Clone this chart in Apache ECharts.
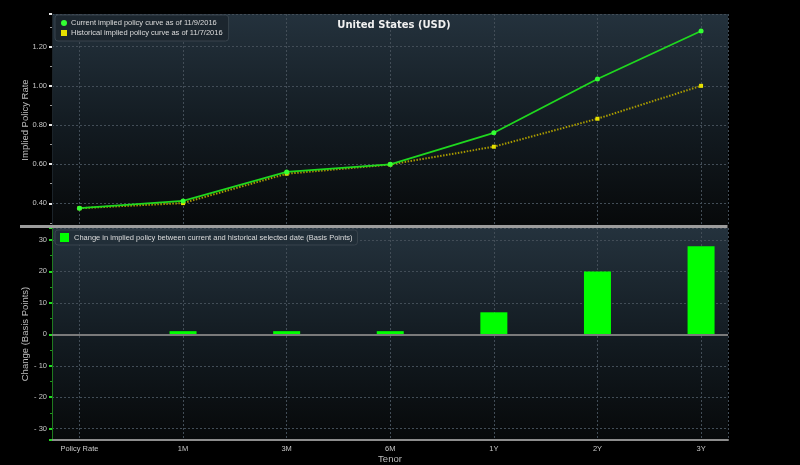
<!DOCTYPE html>
<html>
<head>
<meta charset="utf-8">
<script src="https://cdn.jsdelivr.net/npm/echarts@6/dist/echarts.min.js"></script>
<style>html,body{margin:0;padding:0;background:#000;}#c{width:800px;height:465px;}</style>
</head>
<body>
<div id="c"></div>
<script>
var tenors = ['Policy Rate', '1M', '3M', '6M', '1Y', '2Y', '3Y'];
var currentCurve = [0.375, 0.412, 0.56, 0.599, 0.76, 1.035, 1.28];
var historicalCurve = [0.375, 0.401, 0.551, 0.598, 0.689, 0.832, 1.0];
var changeBp = [0, 1, 1, 1, 7, 20, 28];
var currentName = 'Current implied policy curve as of 11/9/2016';
var historicalName = 'Historical implied policy curve as of 11/7/2016';
var changeName = 'Change in implied policy between current and historical selected date (Basis Points)';

var FONT = 'Liberation Sans';
function pairs(arr) { return arr.map(function (v, i) { return [i, v]; }); }
var bg = {type: 'linear', x: 0, y: 0, x2: 0, y2: 1,
  colorStops: [{offset: 0, color: '#24323d'}, {offset: 0.55, color: '#121a20'}, {offset: 1, color: '#07090a'}]};
var gridLine = {show: true, lineStyle: {color: '#424d57', type: [2, 2], width: 1}};
function xLabel(v) { return Number.isInteger(v) && tenors[v] !== undefined ? tenors[v] : ''; }

var chart = echarts.init(document.getElementById('c'), null, {renderer: 'canvas'});
chart.setOption({
  backgroundColor: '#000',
  animation: false,
  title: {text: 'United States (USD)', left: 389, textAlign: 'center', top: 15,
    textStyle: {color: '#f0f0f0', fontSize: 10, fontWeight: 'bold', fontFamily: 'DejaVu Sans'}},
  legend: [{
    data: [{name: currentName, icon: 'circle'}, {name: historicalName, icon: 'rect'}],
    left: 55, top: 15, orient: 'vertical', itemGap: 2, itemWidth: 6, itemHeight: 6,
    padding: [4, 6, 4, 6], backgroundColor: 'rgba(28,38,46,0.9)', borderColor: '#38434c', borderWidth: 1, borderRadius: 3,
    textStyle: {color: '#dcdcdc', fontSize: 7.5, fontFamily: FONT, padding: [0, 0, 0, -1]}
  }, {
    data: [{name: changeName, icon: 'rect'}],
    left: 55, top: 230, itemWidth: 9, itemHeight: 9,
    padding: [3, 5, 3, 5], backgroundColor: 'rgba(34,46,56,0.95)', borderColor: '#38434c', borderWidth: 1, borderRadius: 3,
    textStyle: {color: '#dcdcdc', fontSize: 7.5, fontFamily: FONT}
  }],
  grid: [
    {left: 52, right: 72, top: 14, height: 212, show: true, backgroundColor: bg, borderWidth: 0},
    {left: 52, right: 72, top: 228, height: 212, show: true, backgroundColor: bg, borderWidth: 0}
  ],
  xAxis: [{
    type: 'value', gridIndex: 0, min: -0.265, max: 6.26, splitNumber: 6,
    axisLine: {show: false, onZero: false}, axisTick: {show: false}, axisLabel: {show: false},
    splitLine: gridLine
  }, {
    type: 'value', gridIndex: 1, min: -0.265, max: 6.26, splitNumber: 6,
    name: 'Tenor', nameLocation: 'middle', nameGap: 14, nameMoveOverlap: false,
    nameTextStyle: {color: '#bdbdbd', fontSize: 9.5, fontFamily: FONT},
    axisLine: {show: true, onZero: false, lineStyle: {color: '#8c8c8c', width: 2}},
    axisTick: {show: false},
    axisLabel: {color: '#c8c8c8', fontSize: 7.5, fontFamily: FONT, margin: 5, formatter: xLabel,
      showMinLabel: false, showMaxLabel: false},
    splitLine: gridLine
  }],
  yAxis: [{
    type: 'value', gridIndex: 0, min: 0.284, max: 1.367, splitNumber: 5,
    name: 'Implied Policy Rate', nameLocation: 'middle', nameGap: 22, nameMoveOverlap: false,
    nameTextStyle: {color: '#bdbdbd', fontSize: 9.5, fontFamily: FONT},
    axisLine: {show: true, onZero: false, lineStyle: {color: '#1b2329'}},
    axisTick: {show: true, length: 3, lineStyle: {color: '#e8e8e8', width: 2}},
    minorTick: {show: true, splitNumber: 2, length: 2, lineStyle: {color: '#9a9a9a'}},
    axisLabel: {color: '#c8c8c8', fontSize: 7.5, fontFamily: FONT, margin: 5,
      showMinLabel: false, showMaxLabel: false,
      formatter: function (v) { return v.toFixed(2); }},
    splitLine: gridLine
  }, {
    type: 'value', gridIndex: 1, min: -33.6, max: 33.8, splitNumber: 6,
    name: 'Change (Basis Points)', nameLocation: 'middle', nameGap: 22, nameMoveOverlap: false,
    nameTextStyle: {color: '#bdbdbd', fontSize: 9.5, fontFamily: FONT},
    axisLine: {show: true, onZero: false, lineStyle: {color: '#1f7a1f', width: 1}},
    axisTick: {show: true, length: 3, lineStyle: {color: '#22dd22', width: 2}},
    minorTick: {show: true, splitNumber: 2, length: 2, lineStyle: {color: '#1f9a1f'}},
    axisLabel: {color: '#c8c8c8', fontSize: 7.5, fontFamily: FONT, margin: 5,
      showMinLabel: false, showMaxLabel: false,
      formatter: function (v) { return v === 0 ? '0' : (v < 0 ? '- ' + Math.abs(v) : String(v)); }},
    splitLine: gridLine
  }],
  graphic: [{type: 'rect', shape: {x: 20, y: 225, width: 707.5, height: 3}, style: {fill: '#9c9c9c'}, z: 100}],
  series: [{
    name: historicalName, type: 'line', xAxisIndex: 0, yAxisIndex: 0, data: pairs(historicalCurve),
    symbol: 'rect', symbolSize: 4, itemStyle: {color: '#e6e000'},
    lineStyle: {color: '#a89a00', width: 2, type: [1.5, 1.5]}, z: 3
  }, {
    name: currentName, type: 'line', xAxisIndex: 0, yAxisIndex: 0, data: pairs(currentCurve),
    symbol: 'circle', symbolSize: 5, itemStyle: {color: '#33ff33'},
    lineStyle: {color: '#1fd81f', width: 1.8}, z: 4
  }, {
    name: changeName, type: 'bar', xAxisIndex: 1, yAxisIndex: 1, data: pairs(changeBp),
    barWidth: 27, itemStyle: {color: '#00ff00'},
    markLine: {silent: true, symbol: 'none', label: {show: false},
      lineStyle: {color: '#7a7a7a', width: 2, type: 'solid'}, data: [{yAxis: 0}]}
  }]
});
</script>
</body>
</html>
